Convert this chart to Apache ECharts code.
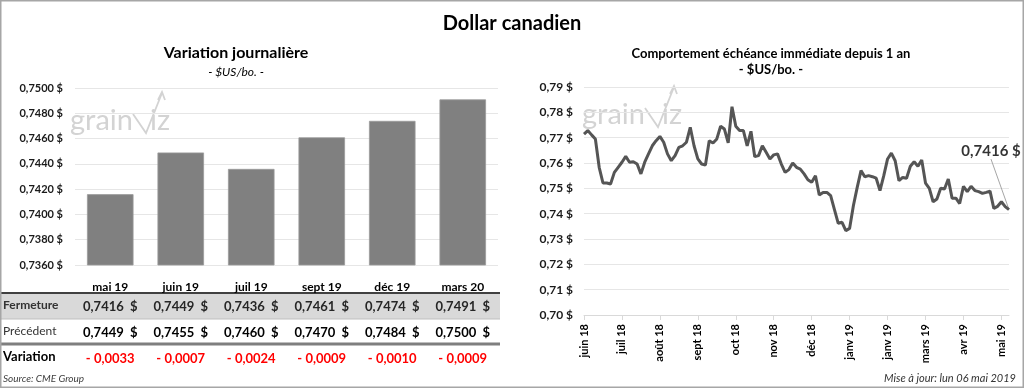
<!DOCTYPE html>
<html><head><meta charset="utf-8">
<script src="https://cdn.jsdelivr.net/npm/echarts/dist/echarts.min.js"></script>
<style>html,body{margin:0;padding:0;background:#fff}#c{width:1024px;height:388px}</style>
</head><body><div id="c"></div>
<script>
// ---- Left panel: daily variation by contract ----
const contracts = ['mai 19','juin 19','juil 19','sept 19','déc 19','mars 20'];
const fermeture = [0.7416,0.7449,0.7436,0.7461,0.7474,0.7491];
const precedent = [0.7449,0.7455,0.7460,0.7470,0.7484,0.7500];
const variation = [-0.0033,-0.0007,-0.0024,-0.0009,-0.0010,-0.0009];
const rowLabels = ['Fermeture','Précédent','Variation'];

// ---- Right panel: front month over 1 year ----
const monthTicks = ['juin 18','juil 18','août 18','sept 18','oct 18','nov 18','déc 18','janv 19','janv 19','mars 19','avr 19','mai 19'];
const tickStep = 10;
const history = [
 0.7714,0.7728,0.7711,0.7695,0.7583,0.7521,0.7521,0.7517,0.7563,0.7583,
 0.7603,0.7626,0.7603,0.7605,0.7596,0.7557,0.7603,0.7636,0.7668,0.7688,
 0.7705,0.7682,0.7636,0.7609,0.7629,0.7662,0.7668,0.7682,0.7741,0.7668,
 0.7616,0.7596,0.7592,0.7688,0.7679,0.7695,0.7745,0.7734,0.7680,0.7822,
 0.7745,0.7728,0.7728,0.7668,0.7725,0.7625,0.7629,0.7668,0.7642,0.7616,
 0.7632,0.7636,0.7596,0.7563,0.7574,0.7600,0.7583,0.7576,0.7557,0.7534,
 0.7524,0.7550,0.7474,0.7484,0.7484,0.7471,0.7416,0.7362,0.7366,0.7333,
 0.7342,0.7432,0.7504,0.7570,0.7546,0.7550,0.7546,0.7540,0.7491,0.7550,
 0.7616,0.7639,0.7609,0.7530,0.7543,0.7540,0.7587,0.7605,0.7587,0.7612,
 0.7521,0.7500,0.7447,0.7458,0.7500,0.7497,0.7537,0.7461,0.7461,0.7440,
 0.7508,0.7487,0.7508,0.7491,0.7487,0.7480,0.7484,0.7489,0.7421,0.7429,
 0.7447,0.7428,0.7416
];

const F = 'Lato, "Open Sans", sans-serif';
const fr = (v, d) => v.toFixed(d).replace('.', ',');
const histCats = history.map((v, i) => 'p' + i);
const lastIdx = history.length - 1;

function tableAxis(offset, fmt, style) {
  return {
    type: 'category', gridIndex: 0, position: 'bottom', offset: offset,
    data: contracts,
    axisLine: {show: false}, axisTick: {show: false}, splitLine: {show: false},
    axisLabel: Object.assign({interval: 0, margin: 0, fontFamily: F, verticalAlign: 'top',
      formatter: fmt}, style)
  };
}

function watermark(x0, yb) {
  const c = '#d3d3d3';
  return [
    {type: 'text', left: x0, top: yb - 27, silent: true,
     style: {text: 'grain', font: '400 29px ' + F, fill: c}},
    {type: 'polyline', silent: true, shape: {points: [[x0 + 63, yb - 19], [x0 + 76, yb], [x0 + 92, yb - 40]]},
     style: {stroke: c, lineWidth: 1.8, fill: null}},
    {type: 'polyline', silent: true, shape: {points: [[x0 + 88, yb - 33], [x0 + 92, yb - 41], [x0 + 95, yb - 33]]},
     style: {stroke: c, lineWidth: 1.8, fill: null}},
    {type: 'text', left: x0 + 80, top: yb - 27, silent: true,
     style: {text: 'iz', font: '400 29px ' + F, fill: c}}
  ];
}

const chart = echarts.init(document.getElementById('c'), null, {renderer: 'canvas'});
const option = {
  animation: false,
  backgroundColor: '#fff',
  textStyle: {fontFamily: F},
  title: [
    {text: 'Dollar canadien', left: 'center', top: 9,
     textStyle: {fontFamily: F, fontSize: 20, fontWeight: 'bold', color: '#000'}},
    {text: 'Variation journalière', subtext: '- $US/bo. -', left: 231, textAlign: 'center', top: 40, itemGap: 5,
     textStyle: {fontFamily: F, fontSize: 16, fontWeight: 'bold', color: '#000'},
     subtextStyle: {fontFamily: F, fontSize: 12, fontStyle: 'italic', color: '#000'}},
    {text: 'Comportement échéance immédiate depuis 1 an', subtext: '- $US/bo. -', left: 766, textAlign: 'center', top: 42, itemGap: 3,
     textStyle: {fontFamily: F, fontSize: 13, fontWeight: 'bold', color: '#000'},
     subtextStyle: {fontFamily: F, fontSize: 13, fontWeight: 'bold', color: '#000'}}
  ],
  grid: [
    {left: 75, right: 526, top: 88, bottom: 123, outerBoundsMode: 'none', containLabel: false},
    {left: 584, right: 15, top: 87, bottom: 73, outerBoundsMode: 'none', containLabel: false}
  ],
  xAxis: [
    {type: 'category', gridIndex: 0, data: contracts,
     axisLine: {show: false}, axisTick: {show: false},
     axisLabel: {show: false}},
    tableAxis(16, v => v, {fontSize: 12, fontWeight: 'bold', color: '#000'}),
    tableAxis(35, (v, i) => '{a|' + fr(fermeture[i], 4) + '}  {a|$}', {rich: {a: {fontFamily: F, fontSize: 13, fontWeight: 'bold', color: '#262626'}}}),
    tableAxis(61, (v, i) => '{a|' + fr(precedent[i], 4) + '}  {a|$}', {rich: {a: {fontFamily: F, fontSize: 13, fontWeight: 'bold', color: '#000'}}}),
    tableAxis(87, (v, i) => (variation[i] < 0 ? '- ' : '+ ') + fr(Math.abs(variation[i]), 4), {fontSize: 13, fontWeight: 'bold', color: '#ff0000'}),
    {type: 'category', gridIndex: 1, data: histCats, boundaryGap: false,
     axisLine: {show: true, lineStyle: {color: '#d9d9d9', width: 1}},
     axisTick: {show: true, length: 5, interval: i => i % tickStep === 0, lineStyle: {color: '#d9d9d9'}},
     axisLabel: {interval: i => i % tickStep === 0, rotate: 90, margin: 9,
       formatter: (v, i) => (i % tickStep === 0 ? monthTicks[i / tickStep] : ''),
       fontFamily: F, fontSize: 11, fontWeight: 'bold', color: '#000', hideOverlap: false}}
  ],
  yAxis: [
    {type: 'value', gridIndex: 0, min: 0.736, max: 0.75, interval: 0.002,
     axisLine: {show: false}, axisTick: {show: false},
     splitLine: {lineStyle: {color: '#e6e6e6', width: 1}},
     axisLabel: {margin: 12, formatter: v => fr(v, 4) + ' $', fontFamily: F, fontSize: 11, fontWeight: 'bold', color: '#1a1a1a'}},
    {type: 'value', gridIndex: 1, min: 0.70, max: 0.79, interval: 0.01,
     axisLine: {show: false}, axisTick: {show: false},
     splitLine: {lineStyle: {color: '#e6e6e6', width: 1}},
     axisLabel: {margin: 11, formatter: v => fr(v, 2) + ' $', fontFamily: F, fontSize: 12, fontWeight: 'bold', color: '#1a1a1a'}}
  ],
  series: [
    {type: 'bar', xAxisIndex: 0, yAxisIndex: 0, data: fermeture, barWidth: '66%',
     itemStyle: {color: '#808080', borderColor: '#9a9a9a', borderWidth: 0.8}},
    {type: 'line', xAxisIndex: 5, yAxisIndex: 1, data: history, showSymbol: false, symbol: 'none',
     lineStyle: {color: '#555555', width: 3}, z: 3},
    {type: 'scatter', xAxisIndex: 5, yAxisIndex: 1, data: [[lastIdx, history[lastIdx]]],
     symbolSize: 1, itemStyle: {color: 'rgba(0,0,0,0)'},
     label: {show: true, position: 'inside', formatter: p => fr(p.value[1], 4) + ' $',
       fontFamily: F, fontSize: 15, fontWeight: 'bold', color: '#000'},
     labelLayout: {dx: -18, dy: -58},
     labelLine: {show: true, lineStyle: {color: '#a6a6a6', width: 1}}}
  ],
  graphic: [
    {type: 'rect', silent: true, z: -10, shape: {x: 0, y: 294, width: 500, height: 25}, style: {fill: '#d9d9d9'}},
    {type: 'line', silent: true, shape: {x1: 0, y1: 293, x2: 500, y2: 293}, style: {stroke: '#404040', lineWidth: 2}},
    {type: 'line', silent: true, shape: {x1: 0, y1: 319, x2: 500, y2: 319}, style: {stroke: '#bfbfbf', lineWidth: 1}},
    {type: 'line', silent: true, shape: {x1: 0, y1: 344, x2: 500, y2: 344}, style: {stroke: '#7f7f7f', lineWidth: 3}},
    {type: 'text', left: 3, top: 299, style: {text: rowLabels[0], font: 'bold 12px ' + F, fill: '#333'}},
    {type: 'text', left: 3, top: 325, style: {text: rowLabels[1], font: '12px ' + F, fill: '#333'}},
    {type: 'text', left: 3, top: 350, style: {text: rowLabels[2], font: 'bold 13px ' + F, fill: '#000'}},
    {type: 'text', left: 3, top: 374, style: {text: 'Source: CME Group', font: 'italic 10px ' + F, fill: '#404040'}},
    {type: 'text', right: 8, top: 373, style: {text: 'Mise à jour: lun 06 mai 2019', font: 'italic 11px ' + F, fill: '#333'}},
    {type: 'rect', silent: true, shape: {x: 0.75, y: 0.75, width: 1022.5, height: 386.5}, style: {fill: null, stroke: '#a6a6a6', lineWidth: 1.5}}
  ].concat(watermark(70, 133)).concat(watermark(582, 127))
};
chart.setOption(option);
</script></body></html>
